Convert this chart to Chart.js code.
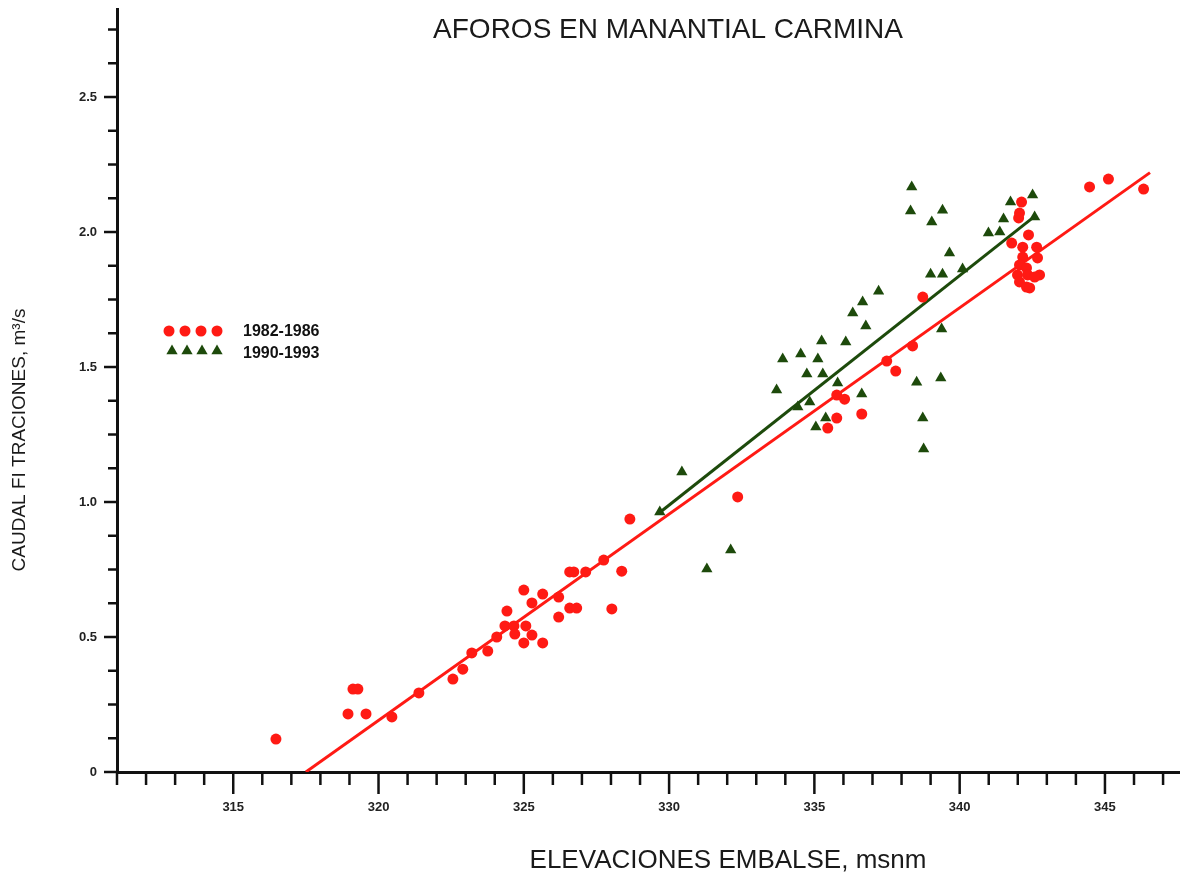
<!DOCTYPE html>
<html><head><meta charset="utf-8">
<script src="https://cdn.jsdelivr.net/npm/chart.js@4.4.1/dist/chart.umd.min.js"></script>
<style>html,body{margin:0;padding:0;background:#fff;overflow:hidden;width:1180px;height:875px}canvas{display:block}</style>
</head><body>
<canvas id="c" width="1187" height="875"></canvas>
<script>
const chartTitle = 'AFOROS EN MANANTIAL CARMINA';
const xAxisTitle = 'ELEVACIONES EMBALSE, msnm';
const yAxisTitle = 'CAUDAL FI TRACIONES, m\u00B3/s';
const seriesNames = ['1982-1986', '1990-1993'];

const red8286X = [316.47,318.95,319.12,319.29,319.57,320.46,321.39,322.56,322.90,323.21,323.76,324.07,324.42,324.35,324.66,324.69,325.00,325.00,325.07,325.28,325.28,325.65,325.65,326.20,326.20,326.58,326.72,326.58,326.82,327.13,327.75,328.03,328.37,328.65,332.36,335.46,335.77,335.77,336.04,336.63,337.49,337.80,338.38,338.73,341.79,342.13,342.06,342.03,342.37,342.17,342.65,342.17,342.68,342.06,342.30,341.99,342.34,342.75,342.06,342.30,342.41,342.58,344.47,345.12,346.33];
const red8286Y = [0.122,0.215,0.307,0.307,0.215,0.204,0.293,0.344,0.381,0.441,0.448,0.500,0.596,0.541,0.541,0.511,0.674,0.478,0.541,0.507,0.626,0.659,0.478,0.648,0.574,0.741,0.741,0.607,0.607,0.741,0.785,0.604,0.744,0.937,1.019,1.274,1.311,1.396,1.381,1.326,1.522,1.485,1.578,1.759,1.959,2.111,2.070,2.052,1.989,1.944,1.944,1.907,1.904,1.878,1.867,1.841,1.841,1.841,1.815,1.796,1.793,1.833,2.167,2.196,2.159];

const green9093X = [329.68,330.44,331.30,332.12,333.70,333.91,334.53,335.12,335.25,334.74,335.29,335.80,336.08,336.32,336.66,336.77,337.21,334.43,334.84,335.05,335.39,336.63,338.52,339.35,338.73,338.76,339.38,339.00,339.41,340.10,339.65,338.35,338.31,339.41,339.04,340.99,341.38,341.51,341.75,342.51,342.58];
const green9093Y = [0.963,1.111,0.752,0.822,1.415,1.530,1.548,1.530,1.596,1.474,1.474,1.441,1.593,1.700,1.741,1.652,1.781,1.352,1.370,1.278,1.311,1.400,1.444,1.459,1.311,1.196,1.641,1.844,1.844,1.863,1.922,2.167,2.078,2.081,2.037,1.996,2.000,2.048,2.111,2.137,2.056];

const fit8286X = [317.5, 346.55];
const fit8286Y = [0, 2.22];
const fit9093X = [329.7, 342.6];
const fit9093Y = [0.963, 2.06];

const xTickLabels = ['315','320','325','330','335','340','345'];
const yTickLabels = ['0','0.5','1.0','1.5','2.0','2.5'];

const xMin = 311, xMax = 347.6, yMin = 0, yMax = 2.826;

const RED = '#ff1a14';
const GREEN = '#1d4a0b';
const FONT = '"Liberation Sans", Arial, sans-serif';

const pts = (xs, ys) => xs.map((x, i) => ({x: x, y: ys[i]}));

const decorPlugin = {
  id: 'decor',
  afterDraw(chart) {
    const ctx = chart.ctx;
    const xs = chart.scales.x, ys = chart.scales.y;
    const ca = chart.chartArea;
    ctx.save();
    ctx.strokeStyle = '#111';
    ctx.lineWidth = 2.5;
    xs.ticks.forEach(t => {
      if (!Number.isInteger(t.value)) return;
      const px = xs.getPixelForValue(t.value);
      const len = (t.value % 5 === 0) ? 22 : 13;
      ctx.beginPath(); ctx.moveTo(px, ca.bottom); ctx.lineTo(px, ca.bottom + len); ctx.stroke();
    });
    ys.ticks.forEach(t => {
      const q = t.value / 0.125;
      if (Math.abs(q - Math.round(q)) > 1e-6) return;
      const py = ys.getPixelForValue(t.value);
      const len = (Math.abs(t.value / 0.5 - Math.round(t.value / 0.5)) < 1e-6) ? 13 : 9;
      ctx.beginPath(); ctx.moveTo(ca.left - len, py); ctx.lineTo(ca.left, py); ctx.stroke();
    });
    ctx.fillStyle = '#1a1a1a';
    ctx.textAlign = 'center';
    ctx.textBaseline = 'alphabetic';
    ctx.font = '28px ' + FONT;
    ctx.fillText(chartTitle, 668, 38);
    ctx.font = '26px ' + FONT;
    ctx.fillText(xAxisTitle, 728, 868);
    ctx.save();
    ctx.translate(25, 440);
    ctx.rotate(-Math.PI / 2);
    ctx.font = '19px ' + FONT;
    ctx.fillText(yAxisTitle, 0, 0);
    ctx.restore();
    const ds = chart.data.datasets;
    const rows = [
      {d: ds[0], y: 331, xs: [169, 185, 201, 217], ty: 332},
      {d: ds[1], y: 351, xs: [172, 187, 202, 217], ty: 354}
    ];
    rows.forEach(r => {
      r.xs.forEach(x => {
        ctx.fillStyle = r.d.backgroundColor;
        ctx.beginPath();
        const rad = r.d.pointRadius;
        if (r.d.pointStyle === 'circle') {
          ctx.arc(x, r.y, rad, 0, Math.PI * 2);
        } else {
          ctx.moveTo(x, r.y - rad);
          ctx.lineTo(x + Math.sin(2 * Math.PI / 3) * rad, r.y - Math.cos(2 * Math.PI / 3) * rad);
          ctx.lineTo(x + Math.sin(4 * Math.PI / 3) * rad, r.y - Math.cos(4 * Math.PI / 3) * rad);
          ctx.closePath();
        }
        ctx.fill();
      });
      ctx.fillStyle = '#111';
      ctx.textAlign = 'left';
      ctx.textBaseline = 'middle';
      ctx.font = 'bold 16px ' + FONT;
      ctx.fillText(r.d.label, 243, r.ty);
    });
    ctx.restore();
  }
};

const chart = new Chart(document.getElementById('c'), {
  type: 'scatter',
  data: {
    datasets: [
      {label: seriesNames[0], data: pts(red8286X, red8286Y), pointStyle: 'circle', pointRadius: 5.5,
       backgroundColor: RED, borderColor: RED, borderWidth: 0, pointHoverRadius: 5.5},
      {label: seriesNames[1], data: pts(green9093X, green9093Y), pointStyle: 'triangle', pointRadius: 6.5,
       backgroundColor: GREEN, borderColor: GREEN, borderWidth: 0, pointHoverRadius: 6.5},
      {label: 'fit ' + seriesNames[0], data: pts(fit8286X, fit8286Y), showLine: true, pointRadius: 0,
       borderColor: RED, borderWidth: 3, backgroundColor: RED},
      {label: 'fit ' + seriesNames[1], data: pts(fit9093X, fit9093Y), showLine: true, pointRadius: 0,
       borderColor: GREEN, borderWidth: 3, backgroundColor: GREEN}
    ]
  },
  options: {
    responsive: false,
    animation: false,
    events: [],
    layout: {padding: {top: 9, left: 0, right: 0, bottom: 0}},
    plugins: {legend: {display: false}, tooltip: {enabled: false}, title: {display: false}},
    scales: {
      x: {
        type: 'linear', min: xMin, max: xMax,
        grid: {display: false, drawTicks: true, tickLength: 28},
        border: {display: true, color: '#111', width: 3},
        ticks: {
          stepSize: 1, maxTicksLimit: 200, autoSkip: false, maxRotation: 0, padding: 0, includeBounds: false,
          color: '#222', font: {family: FONT, size: 13, weight: 'bold'},
          callback: v => xTickLabels.find(l => Math.abs(Number(l) - v) < 1e-9) || ''
        },
        afterFit: s => { s.height = 103; }
      },
      y: {
        type: 'linear', min: yMin, max: yMax,
        grid: {display: false, drawTicks: true, tickLength: 20},
        border: {display: true, color: '#111', width: 3},
        ticks: {
          stepSize: 0.125, maxTicksLimit: 200, autoSkip: false, padding: 0, includeBounds: false,
          color: '#222', font: {family: FONT, size: 13, weight: 'bold'},
          callback: v => yTickLabels.find(l => Math.abs(Number(l) - v) < 1e-9) || ''
        },
        afterFit: s => { s.width = 117; }
      }
    }
  },
  plugins: [decorPlugin]
});
</script>
</body></html>
